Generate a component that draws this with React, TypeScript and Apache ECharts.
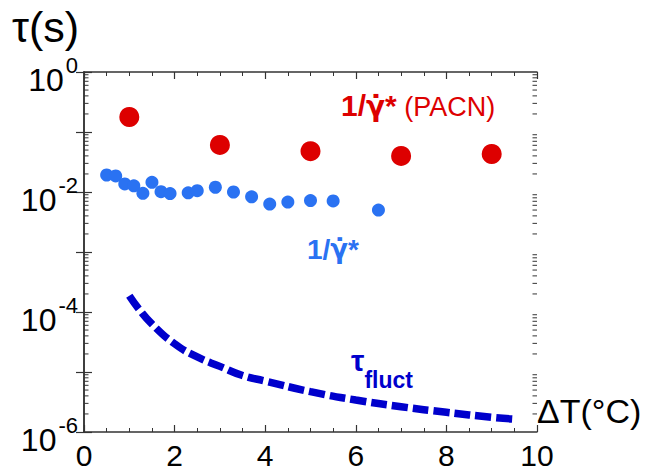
import React, { useEffect, useRef } from "react";
import * as echarts from "echarts";

// PACN: 1/gamma-dot*
const pacnX = [1, 3, 5, 7, 9];
const pacnY = [0.178, 0.061, 0.048, 0.040, 0.043];

// 1/gamma-dot* (blue points)
const gamX = [0.5, 0.7, 0.9, 1.1, 1.3, 1.5, 1.7, 1.9, 2.3, 2.5, 2.9, 3.3, 3.7, 4.1, 4.5, 5.0, 5.5, 6.5];
const gamY = [0.0192, 0.0185, 0.0136, 0.0127, 0.0095, 0.0145, 0.0101, 0.0094, 0.0097, 0.0105, 0.0120, 0.0100, 0.0083, 0.0063, 0.0068, 0.0072, 0.0071, 0.0050];

// tau_fluct (dashed curve)
const flX = [1.0, 1.2, 1.5, 2.0, 2.5, 3.0, 3.5, 4.0, 5.0, 6.0, 7.0, 8.0, 9.0, 9.5];
const flY = [1.86e-4, 1.15e-4, 6.3e-5, 2.95e-5, 1.78e-5, 1.24e-5, 8.74e-6, 7.08e-6, 4.7e-6, 3.41e-6, 2.64e-6, 2.13e-6, 1.76e-6, 1.64e-6];

// log-axis minor tick structure
const decades = [-6, -5, -4, -3, -2, -1];
const minorMultipliers = [2, 3, 4, 5, 6, 7, 8, 9];
const minorTickValues: number[] = [];
decades.forEach((d) => minorMultipliers.forEach((m) => minorTickValues.push(m * Math.pow(10, d))));

const FONT = "Liberation Sans, Arial, sans-serif";

export default function App() {
  const ref = useRef<HTMLDivElement>(null);
  useEffect(() => {
    const chart = echarts.init(ref.current!, null, { renderer: "svg" });
    const axisLine = { show: true, lineStyle: { color: "#333", width: 1.5 } };
    const xCommon = {
      type: "value" as const,
      min: 0,
      max: 10,
      interval: 2,
      axisLine,
      axisTick: { show: true, inside: true, length: 7, lineStyle: { color: "#333", width: 1.2 } },
      minorTick: { show: true, splitNumber: 4, length: 4, lineStyle: { color: "#333", width: 1 } },
      splitLine: { show: false },
      minorSplitLine: { show: false },
    };
    const yCommon = {
      type: "log" as const,
      logBase: 10,
      min: 1e-6,
      max: 1,
      interval: 1,
      axisLine,
      axisTick: { show: true, inside: true, length: 8, lineStyle: { color: "#333", width: 1.2 } },
      minorTick: { show: false },
      splitLine: { show: false },
      minorSplitLine: { show: false },
    };
    chart.setOption({
      animation: false,
      backgroundColor: "#fff",
      grid: { left: 84, top: 72, right: 108, bottom: 40 },
      xAxis: [
        {
          ...xCommon,
          position: "bottom",
          axisLabel: { fontSize: 30, lineHeight: 30, color: "#000", fontFamily: FONT, margin: 8 },
        },
        { ...xCommon, position: "top", axisLabel: { show: false } },
      ],
      yAxis: [
        {
          ...yCommon,
          position: "left",
          axisLabel: {
            margin: 6,
            padding: [6, 0, 0, 0],
            formatter: (v: number) => {
              const e = Math.round(Math.log10(v));
              if (e % 2 !== 0) return "";
              return `{b|10}{s|${e}}`;
            },
            rich: {
              b: { fontSize: 32, fontFamily: FONT, color: "#000", lineHeight: 42, verticalAlign: "bottom" },
              s: { fontSize: 22, fontFamily: FONT, color: "#000", lineHeight: 22, verticalAlign: "top", padding: [0, 0, 0, 2] },
            },
          },
        },
        { ...yCommon, position: "right", axisLabel: { show: false } },
      ],
      series: [
        {
          type: "custom",
          clip: false,
          silent: true,
          data: minorTickValues,
          encode: { y: 0 },
          renderItem: (params: any, api: any) => {
            const v = api.value(0);
            const l = api.coord([0, v]);
            const r = api.coord([10, v]);
            const st = { stroke: "#333", lineWidth: 1 };
            return {
              type: "group",
              children: [
                { type: "line", shape: { x1: l[0], y1: l[1], x2: l[0] + 4.5, y2: l[1] }, style: st },
                { type: "line", shape: { x1: r[0], y1: r[1], x2: r[0] - 4.5, y2: r[1] }, style: st },
              ],
            };
          },
        },
        {
          type: "scatter",
          data: pacnX.map((x, i) => [x, pacnY[i]]),
          symbolSize: 20,
          itemStyle: { color: "#dd0000", opacity: 1 },
        },
        {
          type: "scatter",
          data: gamX.map((x, i) => [x, gamY[i]]),
          symbolSize: 13,
          itemStyle: { color: "#2a72f2", opacity: 1 },
        },
        {
          type: "line",
          data: flX.map((x, i) => [x, flY[i]]),
          smooth: true,
          showSymbol: false,
          symbol: "none",
          lineStyle: { color: "#0000cc", width: 7.5, type: [16, 5], cap: "butt" },
        },
      ],
      graphic: [
        {
          type: "text",
          left: 12,
          top: 5,
          style: { text: "τ(s)", fontSize: 43, fontFamily: FONT, fill: "#000" },
        },
        {
          type: "text",
          left: 537,
          top: 394,
          style: { text: "ΔT(°C)", fontSize: 34, fontFamily: FONT, fill: "#000" },
        },
        {
          type: "text",
          left: 341,
          top: 90,
          style: {
            text: "{a|1/}{g|γ̇}{a|*}{b| (PACN)}",
            rich: {
              a: { fontSize: 30, fontWeight: "bold", fontFamily: FONT, fill: "#dd0000", lineHeight: 38, verticalAlign: "bottom" },
              g: { fontSize: 28, fontWeight: "bold", fontFamily: "DejaVu Sans", fill: "#dd0000", lineHeight: 38, verticalAlign: "bottom" },
              b: { fontSize: 27, fontFamily: FONT, fill: "#dd0000", lineHeight: 32, verticalAlign: "bottom" },
            },
          },
        },
        {
          type: "text",
          left: 307,
          top: 235,
          style: {
            text: "{a|1/}{g|γ̇}{a|*}",
            rich: {
              a: { fontSize: 28, fontWeight: "bold", fontFamily: FONT, fill: "#2a72f2", lineHeight: 34 },
              g: { fontSize: 26, fontWeight: "bold", fontFamily: "DejaVu Sans", fill: "#2a72f2", lineHeight: 34 },
            },
          },
        },
        {
          type: "text",
          left: 351,
          top: 345,
          style: {
            text: "{t|τ}{f|fluct}",
            rich: {
              t: { fontSize: 30, fontWeight: "bold", fontFamily: FONT, fill: "#0000cc", lineHeight: 46, verticalAlign: "top" },
              f: { fontSize: 23, fontWeight: "bold", fontFamily: FONT, fill: "#0000cc", lineHeight: 46, verticalAlign: "bottom" },
            },
          },
        },
      ],
    });
    return () => chart.dispose();
  }, []);
  return (
    <div
      ref={ref}
      style={{ position: "absolute", left: 0, top: 0, width: 645, height: 472 }}
    />
  );
}
